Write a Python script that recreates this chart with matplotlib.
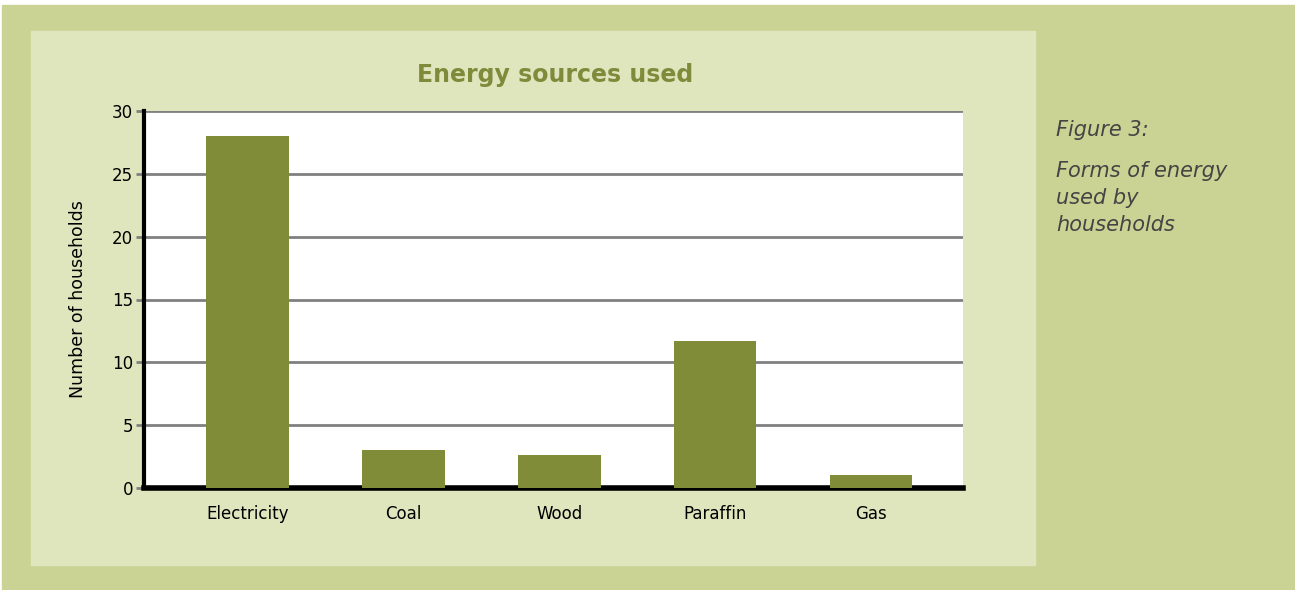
import matplotlib
matplotlib.use('Agg')
import matplotlib.pyplot as plt
from matplotlib.patches import Rectangle

# data
categories = ['Electricity', 'Coal', 'Wood', 'Paraffin', 'Gas']
households = [28, 3, 2.6, 11.7, 1]
y_ticks = [0, 5, 10, 15, 20, 25, 30]

outer_col = '#cad393'
inner_col = '#dfe5bd'
bar_col = '#818c39'
W, H = 1295, 590

plt.rcParams['font.family'] = ['DejaVu Sans']

fig = plt.figure(figsize=(W / 100, H / 100), dpi=100, facecolor='white')

# background panels (pixel boxes -> figure fractions)
def px_rect(x0, y0, x1, y1, color):
    fig.patches.append(Rectangle((x0 / W, 1 - y1 / H), (x1 - x0) / W, (y1 - y0) / H,
                                 transform=fig.transFigure, color=color, zorder=-10))

px_rect(2, 5, W, H, outer_col)
px_rect(31, 31, 1035, 565, inner_col)

ax = fig.add_axes([144 / W, 1 - 488 / H, (963 - 144) / W, (488 - 111) / H])
ax.set_facecolor('white')

x = range(len(categories))
ax.bar(x, households, width=0.53, color=bar_col, zorder=3)

ax.set_xlim(-0.663, 4.59)
ax.set_ylim(0, 30)
ax.set_yticks(y_ticks)
ax.set_xticks(list(x))
ax.set_xticklabels(categories)
ax.yaxis.grid(True, color='#808080', linewidth=2, zorder=1)
ax.set_axisbelow(True)

for s in ['top', 'right']:
    ax.spines[s].set_visible(False)
ax.spines['left'].set_linewidth(3)
ax.spines['bottom'].set_linewidth(4)
ax.spines['left'].set_color('black')
ax.spines['bottom'].set_color('black')

ax.tick_params(axis='y', length=6, width=2, color='#808080', labelsize=12, pad=2)
ax.tick_params(axis='x', length=0, labelsize=12, pad=12)

ax.set_ylabel('Number of households', fontsize=12.5, labelpad=18)

fig.text(555 / W, 1 - 75 / H, 'Energy sources used', ha='center', va='center',
         fontsize=17, fontweight='bold', color='#7f8b3a')

fig.text(1056 / W, 1 - 130 / H, 'Figure 3:', ha='left', va='center',
         fontsize=15, style='italic', color='#444444')
fig.text(1056 / W, 1 - 161 / H, 'Forms of energy\nused by\nhouseholds', ha='left', va='top',
         fontsize=15, style='italic', color='#444444', linespacing=1.45)

fig.savefig('out.png', dpi=100, facecolor=fig.get_facecolor())
